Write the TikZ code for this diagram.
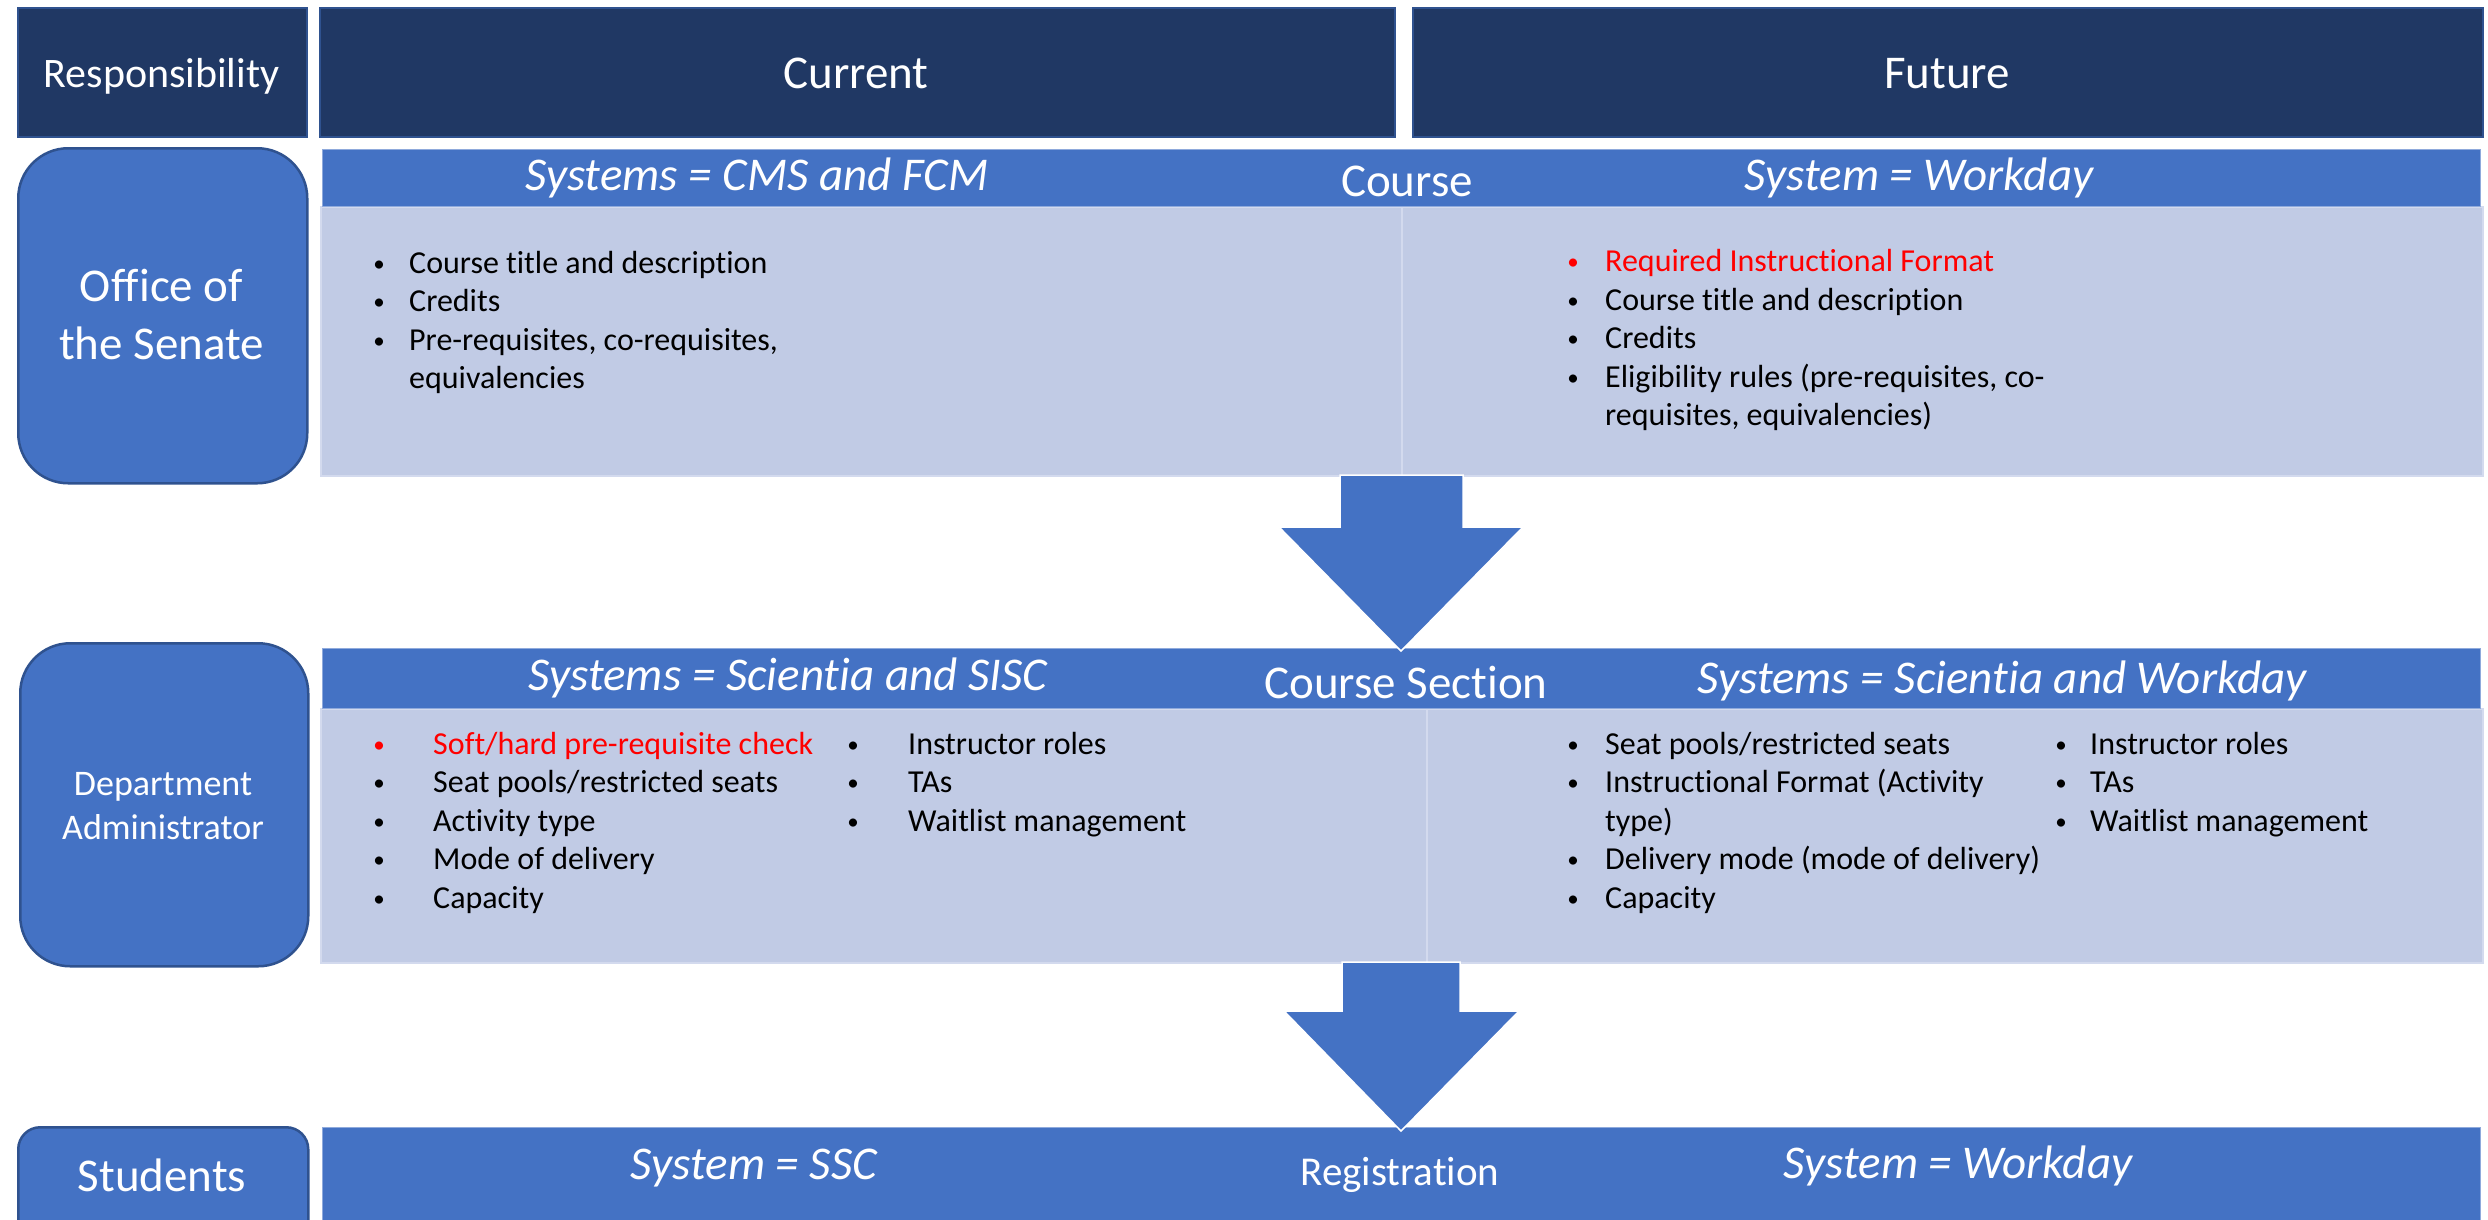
\documentclass[tikz,border=0pt]{standalone}
\usepackage{fontspec}
\setmainfont{Carlito}[Ligatures={NoCommon}]
\definecolor{navy}{HTML}{203864}
\definecolor{navyedge}{HTML}{2F528F}
\definecolor{accent}{HTML}{4472C4}
\definecolor{accentedge}{HTML}{8FAADC}
\definecolor{cellfill}{HTML}{C1CBE5}
\definecolor{celledge}{HTML}{D3DAEE}
\definecolor{redtxt}{HTML}{FF0000}
\tikzset{
  hdr/.style={fill=navy, draw=navyedge, line width=2pt, anchor=north west, inner sep=0pt},
  rolebox/.style={fill=accent, draw=navyedge, line width=2.5pt, anchor=north west, inner sep=0pt},
  bar/.style={fill=accent, draw=accentedge, line width=1.2pt, anchor=north west, inner sep=0pt},
  cell/.style={fill=cellfill, draw=celledge, line width=1.5pt, anchor=north west, inner sep=0pt},
  wtxt/.style={inner sep=0pt, text=white, anchor=base},
  btxt/.style={inner sep=0pt, text=black, anchor=base west, font=\fontsize{32}{38}\selectfont},
  bdot/.style={inner sep=0pt, text=black, anchor=base, font=\fontsize{23}{28}\selectfont},
  blockarrow/.style={fill=accent, draw=white, line width=1.5pt},
}
\newcommand{\bitem}[6]{%
  \node[bdot, text=#5] (#1dot) at (#2,#4-2) {\textbullet};
  \node[btxt, text=#5] (#1) at (#3,#4) {#6};}
\begin{document}
\begin{tikzpicture}[x=1pt,y=-1pt]
\clip (0,0) rectangle (2488,1219);
\fill[white] (0,0) rectangle (2488,1219);
% header row
\node[hdr, minimum width=289, minimum height=129] (hresp) at (17,7) {};
\node[hdr, minimum width=1075, minimum height=129] (hcur) at (319,7) {};
\node[hdr, minimum width=1070, minimum height=129] (hfut) at (1412,7) {};
\node[wtxt, font=\fontsize{42}{50}\selectfont] (tresp) at (161.5,87) {Responsibility};
\node[wtxt, font=\fontsize{47}{56}\selectfont] (tcur) at (856,88) {Current};
\node[wtxt, font=\fontsize{47}{56}\selectfont] (tfut) at (1947,88) {Future};

% row 1
\node[rolebox, rounded corners=50pt, minimum width=289, minimum height=335] (office) at (17,147) {};
\node[wtxt, font=\fontsize{47}{58}\selectfont] (office1) at (161.5,301) {Office of};
\node[wtxt, font=\fontsize{47}{58}\selectfont] (office2) at (161.5,359) {the Senate};
\node[cell, minimum width=1081, minimum height=269] (c1l) at (320,206) {};
\node[cell, minimum width=1081, minimum height=269] (c1r) at (1401,206) {};
\node[bar, minimum width=2158, minimum height=57] (bar1) at (322,149) {};
\node[wtxt, font=\fontsize{47}{56}\selectfont\itshape] (s1l) at (757,190) {Systems = CMS and FCM};
\node[wtxt, font=\fontsize{47}{56}\selectfont] (s1m) at (1407,196) {Course};
\node[wtxt, font=\fontsize{47}{56}\selectfont\itshape] (s1r) at (1919,190) {System = Workday};

\bitem{a1}{379}{409}{273}{black}{Course title and description}
\bitem{a2}{379}{409}{311}{black}{Credits}
\bitem{a3}{379}{409}{350}{black}{Pre-requisites, co-requisites,}
\node[btxt] (a4) at (409,388) {equivalencies};

\bitem{b1}{1573}{1605}{271}{redtxt}{Required Instructional Format}
\bitem{b2}{1573}{1605}{310}{black}{Course title and description}
\bitem{b3}{1573}{1605}{348}{black}{Credits}
\bitem{b4}{1573}{1605}{387}{black}{Eligibility rules (pre-requisites, co-}
\node[btxt] (b5) at (1605,425) {requisites, equivalencies)};

% row 2
\node[rolebox, rounded corners=50pt, minimum width=288, minimum height=323] (dept) at (19,642) {};
\node[wtxt, font=\fontsize{36}{44}\selectfont] (dept1) at (163,795) {Department};
\node[wtxt, font=\fontsize{36}{44}\selectfont] (dept2) at (163,839) {Administrator};
\node[cell, minimum width=1106, minimum height=254] (c2l) at (320,708) {};
\node[cell, minimum width=1056, minimum height=254] (c2r) at (1426,708) {};
\node[bar, minimum width=2158, minimum height=60] (bar2) at (322,648) {};
\node[wtxt, font=\fontsize{47}{56}\selectfont\itshape] (s2l) at (788,690) {Systems = Scientia and SISC};
\node[wtxt, font=\fontsize{47}{56}\selectfont] (s2m) at (1406,698) {Course Section};
\node[wtxt, font=\fontsize{47}{56}\selectfont\itshape] (s2r) at (2002,693) {Systems = Scientia and Workday};

\bitem{d1}{379}{433}{754}{redtxt}{Soft/hard pre-requisite check}
\bitem{d2}{379}{433}{792}{black}{Seat pools/restricted seats}
\bitem{d3}{379}{433}{831}{black}{Activity type}
\bitem{d4}{379}{433}{869}{black}{Mode of delivery}
\bitem{d5}{379}{433}{908}{black}{Capacity}
\bitem{e1}{853}{908}{754}{black}{Instructor roles}
\bitem{e2}{853}{908}{792}{black}{TAs}
\bitem{e3}{853}{908}{831}{black}{Waitlist management}

\bitem{f1}{1573}{1605}{754}{black}{Seat pools/restricted seats}
\bitem{f2}{1573}{1605}{792}{black}{Instructional Format (Activity}
\node[btxt] (f3) at (1605,831) {type)};
\bitem{f4}{1573}{1605}{869}{black}{Delivery mode (mode of delivery)}
\bitem{f5}{1573}{1605}{908}{black}{Capacity}
\bitem{g1}{2061}{2090}{754}{black}{Instructor roles}
\bitem{g2}{2061}{2090}{792}{black}{TAs}
\bitem{g3}{2061}{2090}{831}{black}{Waitlist management}

% row 3
\node[rolebox, rounded corners=22pt, minimum width=290, minimum height=140] (stud) at (17,1126) {};
\node[wtxt, font=\fontsize{47}{56}\selectfont] (stud1) at (162,1191) {Students};
\node[bar, minimum width=2158, minimum height=120] (bar3) at (322,1127) {};
\node[wtxt, font=\fontsize{47}{56}\selectfont\itshape] (s3l) at (754,1179) {System = SSC};
\node[wtxt, font=\fontsize{41}{50}\selectfont] (s3m) at (1400,1185) {Registration};
\node[wtxt, font=\fontsize{47}{56}\selectfont\itshape] (s3r) at (1958,1178) {System = Workday};

% block arrows
\path[blockarrow] (1340,475) -- (1463,475) -- (1463,527) -- (1523,527) -- (1401,651)
  -- (1279,527) -- (1340,527) -- cycle;
\path[blockarrow] (1342,962) -- (1460,962) -- (1460,1011) -- (1519,1011) -- (1401,1131)
  -- (1284,1011) -- (1342,1011) -- cycle;
\end{tikzpicture}
\end{document}
